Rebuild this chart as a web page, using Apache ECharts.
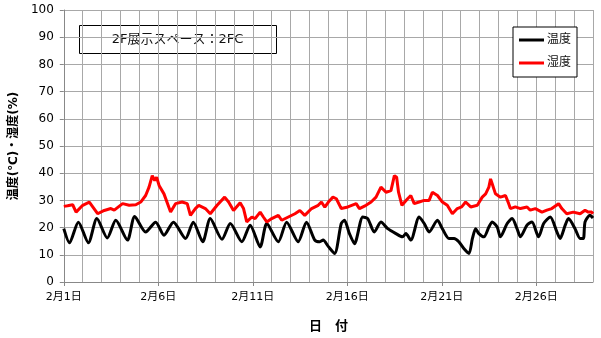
<!DOCTYPE html>
<html>
<head>
<meta charset="utf-8">
<script src="https://cdn.jsdelivr.net/npm/echarts@6/dist/echarts.min.js"></script>
<style>
  html, body { margin: 0; padding: 0; background: #fff; }
  #chart { width: 601px; height: 338px; }
</style>
</head>
<body>
<div id="chart"></div>
<script>
// x = days since 2月1日 0時
var tempDay = [0.0, 0.3, 0.77, 1.3, 1.75, 2.3, 2.75, 3.37, 3.75, 4.33, 4.86, 5.3, 5.8, 6.44, 6.85, 7.35, 7.75, 8.37, 8.81, 9.42,
  9.86, 10.39, 10.74, 11.35, 11.79, 12.4, 12.84, 13.28, 13.55, 13.72, 14.0, 14.33, 14.68, 14.85, 15.1, 15.38, 15.82, 16.08, 16.43, 16.78,
  17.14, 17.57, 17.92, 18.1, 18.36, 18.8, 19.07, 19.33, 19.77, 20.03, 20.38, 20.65, 20.9, 21.2, 21.44, 21.62, 21.79, 21.96, 22.23, 22.49,
  22.67, 22.93, 23.1, 23.46, 23.72, 23.98, 24.16, 24.51, 24.77, 25.12, 25.39, 25.74, 26.09, 26.26, 26.53, 26.7, 27.05, 27.32, 27.49, 27.58,
  27.84, 28.0];
var tempVal = [19.6, 14.4, 22.0, 14.4, 23.3, 16.2, 22.7, 15.4, 24.1, 18.4, 22.0, 17.2, 22.0, 16.0, 22.0, 14.8, 23.3, 15.7, 21.5, 14.8,
  20.9, 12.9, 21.5, 14.8, 22.0, 14.8, 22.0, 15.4, 14.8, 15.4, 13.0, 10.5, 21.5, 22.7, 18.0, 14.1, 23.9, 23.3, 18.4, 22.1,
  19.6, 17.8, 16.6, 17.8, 15.4, 23.9, 21.5, 18.4, 22.7, 19.6, 16.0, 16.0, 14.8, 12.0, 10.5, 16.0, 19.6, 17.8, 16.6, 20.2,
  22.1, 20.2, 16.6, 21.5, 23.3, 19.6, 16.6, 20.9, 22.1, 16.6, 21.5, 23.9, 18.4, 16.0, 20.9, 23.3, 19.6, 16.0, 16.0, 22.1,
  24.5, 23.5];

var humDay = [0.0, 0.2, 0.47, 0.65, 1.0, 1.35, 1.79, 2.14, 2.49, 2.67, 3.11, 3.46, 3.81, 4.07, 4.33, 4.51, 4.68, 4.81, 4.91, 5.04,
  5.3, 5.65, 5.91, 6.26, 6.53, 6.7, 6.96, 7.14, 7.49, 7.75, 8.11, 8.51, 8.72, 8.98, 9.33, 9.51, 9.68, 9.95, 10.12, 10.39,
  10.56, 10.74, 11.0, 11.35, 11.53, 11.88, 12.23, 12.49, 12.75, 13.11, 13.46, 13.63, 13.81, 14.0, 14.24, 14.42, 14.68, 15.03, 15.47, 15.64,
  15.99, 16.26, 16.52, 16.78, 17.05, 17.31, 17.49, 17.61, 17.71, 17.89, 18.19, 18.36, 18.54, 18.8, 19.07, 19.33, 19.5, 19.77, 20.03, 20.29,
  20.56, 20.82, 21.05, 21.26, 21.53, 21.88, 22.14, 22.32, 22.49, 22.58, 22.67, 22.84, 23.1, 23.37, 23.54, 23.63, 23.89, 24.16, 24.51, 24.68,
  24.95, 25.3, 25.56, 25.82, 26.18, 26.35, 26.61, 26.96, 27.32, 27.58, 27.75, 27.93, 28.0];
var humVal = [27.8, 28.0, 28.4, 25.7, 28.2, 29.4, 25.1, 26.3, 27.0, 26.4, 28.8, 28.2, 28.4, 29.4, 31.8, 34.9, 39.1, 37.3, 38.5, 35.5,
  32.4, 25.7, 28.8, 29.4, 28.8, 24.5, 27.0, 28.2, 27.0, 25.1, 28.2, 31.2, 29.4, 26.3, 29.1, 27.0, 22.1, 23.9, 23.3, 25.7,
  23.9, 22.1, 23.3, 24.5, 22.7, 23.9, 25.1, 26.3, 24.5, 27.0, 28.2, 29.4, 27.5, 29.4, 31.2, 30.6, 27.0, 27.6, 28.8, 27.0,
  28.2, 29.4, 31.2, 34.9, 33.0, 33.6, 39.1, 38.5, 33.0, 28.2, 30.6, 31.8, 28.8, 29.4, 30.0, 30.0, 33.0, 31.8, 29.4, 28.2,
  25.1, 27.0, 27.6, 29.4, 27.6, 28.2, 31.2, 32.4, 34.9, 37.9, 36.0, 32.4, 31.2, 31.8, 28.8, 27.0, 27.6, 27.0, 27.6, 26.4,
  27.0, 25.7, 26.4, 27.0, 28.8, 27.0, 25.1, 25.7, 25.1, 26.4, 25.7, 25.7, 25.1];

var xLabels = ['2月1日', '2月6日', '2月11日', '2月16日', '2月21日', '2月26日'];
var seriesNames = ['温度', '湿度'];

var font = "'DejaVu Sans', 'Noto Sans CJK JP', sans-serif";
var gridColor = '#a8a8a8';

function pairs(xs, ys) {
  var out = [];
  for (var i = 0; i < xs.length; i++) {
    out.push([xs[i], ys[i]]);
  }
  return out;
}

var myChart = echarts.init(document.getElementById('chart'));
myChart.setOption({
  animation: false,
  backgroundColor: '#fff',
  textStyle: { fontFamily: font },
  grid: { left: 61, right: 8, top: 10, bottom: 52 },
  graphic: [{
    type: 'group',
    left: 79,
    top: 25,
    children: [{
      type: 'rect',
      shape: { x: 0, y: 0, width: 197, height: 28 },
      style: { fill: '#fff', stroke: '#000', lineWidth: 1 }
    }, {
      type: 'text',
      x: 98,
      y: 14,
      style: {
        text: '2F展示スペース：2FC',
        fill: '#111',
        font: '13px ' + font,
        align: 'center',
        verticalAlign: 'middle'
      }
    }]
  }],
  legend: {
    left: 513,
    top: 27,
    orient: 'vertical',
    backgroundColor: '#fff',
    borderColor: '#000',
    borderWidth: 1,
    borderRadius: 0,
    padding: [7, 6, 8, 6],
    itemGap: 11,
    itemWidth: 25,
    itemHeight: 3,
    icon: 'rect',
    textStyle: { fontSize: 12, color: '#111', padding: [0, 0, 0, -2] },
    data: seriesNames
  },
  xAxis: {
    type: 'value',
    min: 0,
    max: 28,
    interval: 5,
    name: '日　付',
    nameLocation: 'middle',
    nameGap: 38,
    nameTextStyle: { fontSize: 13, fontWeight: 'bold', color: '#000' },
    axisLine: { show: true, lineStyle: { color: '#888', width: 1 } },
    axisTick: { show: true, length: 4, lineStyle: { color: '#888' } },
    axisLabel: {
      margin: 10,
      fontSize: 11,
      color: '#000',
      showMaxLabel: false,
      formatter: function (v) {
        return (v % 5 === 0 && xLabels[v / 5]) ? xLabels[v / 5] : '';
      }
    },
    splitLine: { show: true, lineStyle: { color: gridColor, width: 1 } },
    minorTick: { show: false, splitNumber: 5 },
    minorSplitLine: { show: true, lineStyle: { color: gridColor, width: 1 } }
  },
  yAxis: {
    type: 'value',
    min: 0,
    max: 100,
    interval: 10,
    name: '温度(℃)・湿度(%)',
    nameLocation: 'middle',
    nameRotate: 90,
    nameGap: 38,
    nameTextStyle: { fontSize: 12, fontWeight: 'bold', color: '#000' },
    axisLine: { show: true, lineStyle: { color: '#888', width: 1 } },
    axisTick: { show: true, length: 4, lineStyle: { color: '#888' } },
    axisLabel: { margin: 10, fontSize: 12, color: '#000' },
    splitLine: { show: true, lineStyle: { color: gridColor, width: 1 } }
  },
  series: [{
    name: seriesNames[0],
    type: 'line',
    data: pairs(tempDay, tempVal),
    showSymbol: false,
    smooth: 0.25,
    color: '#000',
    lineStyle: { color: '#000', width: 3 }
  }, {
    name: seriesNames[1],
    type: 'line',
    data: pairs(humDay, humVal),
    showSymbol: false,
    color: '#ff0000',
    lineStyle: { color: '#ff0000', width: 3 }
  }]
});
</script>
</body>
</html>
